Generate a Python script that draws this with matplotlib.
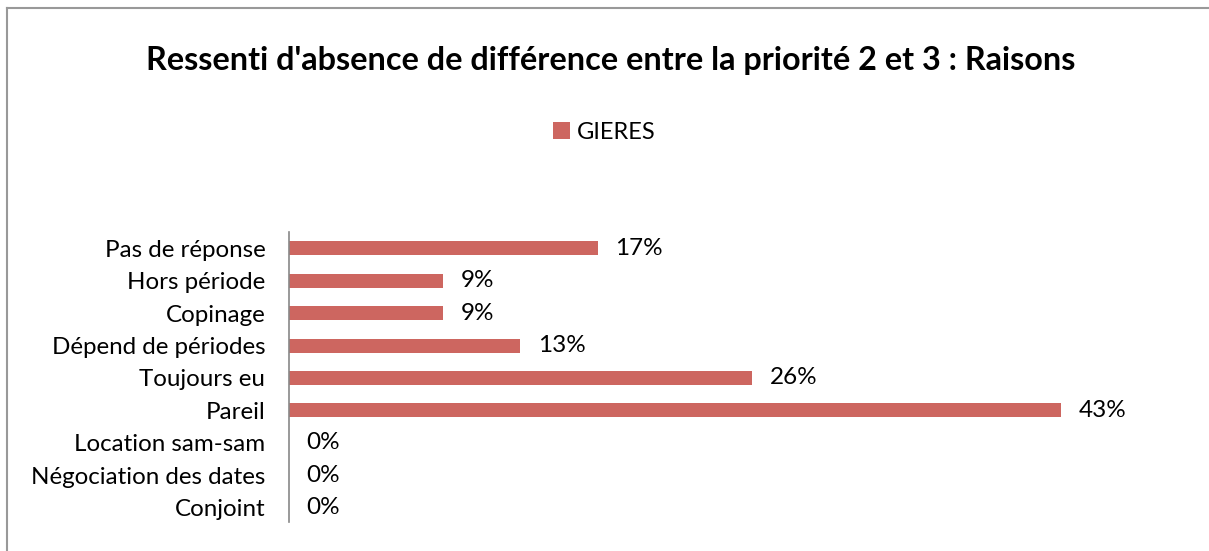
import matplotlib.pyplot as plt
from matplotlib.lines import Line2D

plt.rcParams['font.family'] = ['Lato', 'DejaVu Sans']

# Catégories de bas en haut (ordre d'affichage inversé)
categories = ['Conjoint', 'Négociation des dates', 'Location sam-sam', 'Pareil',
              'Toujours eu', 'Dépend de périodes', 'Copinage', 'Hors période',
              'Pas de réponse']
gieres = [0.0, 0.0, 0.0, 43.48, 26.09, 13.04, 8.70, 8.70, 17.39]

bar_color = '#CD6660'

fig = plt.figure(figsize=(12.09, 5.51), dpi=100)
ax = fig.add_axes([0.239, 0.052, 0.734, 0.527])

y = range(len(categories))
bars = ax.barh(y, gieres, height=0.43, color=bar_color, label='GIERES')
for yi, v in zip(y, gieres):
    ax.text(v + 1.0, yi, f'{v:.0f}%', va='center', ha='left', fontsize=17.5)

ax.set_xlim(0, 50)
ax.set_ylim(-0.45, len(categories) - 0.5)
ax.set_yticks(list(y))
ax.set_yticklabels(categories, fontsize=17.4)
ax.tick_params(axis='y', length=0, pad=17)
ax.set_xticks([])
for side in ['top', 'right', 'bottom']:
    ax.spines[side].set_visible(False)
ax.spines['left'].set_color('#888888')
ax.spines['left'].set_linewidth(1.2)

fig.text(0.505, 0.89, "Ressenti d'absence de différence entre la priorité 2 et 3 : Raisons",
         ha='center', va='center', fontsize=23.3, fontweight='bold')

fig.legend(handles=[bars], loc='center', bbox_to_anchor=(0.5, 0.76), frameon=False,
           fontsize=17, handlelength=0.7, handleheight=0.7, handletextpad=0.3)

# cadre du graphique (haut et gauche)
fig.add_artist(Line2D([0.006, 1.0], [0.986, 0.986], transform=fig.transFigure,
                      color='#999999', linewidth=1.5))
fig.add_artist(Line2D([0.006, 0.006], [0.0, 0.986], transform=fig.transFigure,
                      color='#999999', linewidth=1.5))

fig.savefig('out.png', dpi=100)
